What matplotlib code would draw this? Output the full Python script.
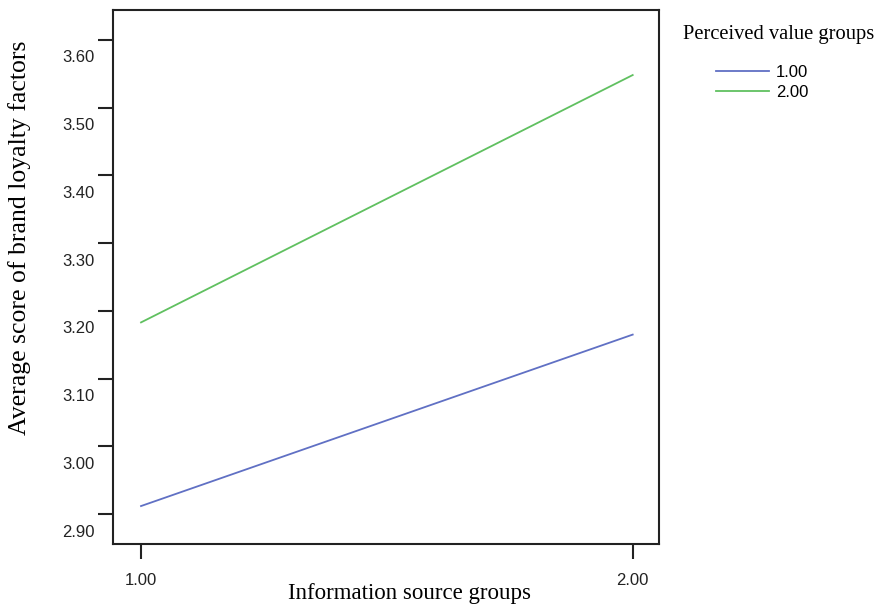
import matplotlib.pyplot as plt
import matplotlib.transforms as mtransforms

info_groups = [1.0, 2.0]
info_labels = ["1.00", "2.00"]
value_groups = ["1.00", "2.00"]
scores_low = [2.912, 3.165]
scores_high = [3.183, 3.548]
y_ticks = [2.90, 3.00, 3.10, 3.20, 3.30, 3.40, 3.50, 3.60]

colors = ["#6070c4", "#60c060"]
serif = ["Liberation Serif", "DejaVu Serif"]
sans = ["Liberation Sans", "DejaVu Sans"]

fig = plt.figure(figsize=(8.81, 6.06), dpi=100)
ax = fig.add_axes([113 / 881, 1 - 544 / 606, 546 / 881, 534 / 606])

lines = []
for vals, c in zip([scores_low, scores_high], colors):
    ln, = ax.plot(info_groups, vals, color=c, lw=1.3)
    lines.append(ln)

ax.set_xlim(0.943, 2.0535)
ax.set_ylim(2.856, 3.644)
ax.set_xticks(info_groups)
ax.set_xticklabels(info_labels, family=sans, fontsize=12, color="#222222")
ax.set_yticks(y_ticks)
ax.set_yticklabels(["%.2f" % v for v in y_ticks], family=sans, fontsize=12, color="#222222")
ax.tick_params(axis="y", length=11, width=1.5, pad=2, color="#222222")
ax.tick_params(axis="x", length=11, width=1.5, pad=10, color="#222222")

# SPSS puts the y labels a bit below their ticks
shift = mtransforms.ScaledTranslation(0, -0.165, fig.dpi_scale_trans)
for lab in ax.get_yticklabels():
    lab.set_transform(lab.get_transform() + shift)

for sp in ax.spines.values():
    sp.set_linewidth(1.5)
    sp.set_color("#222222")

fig.text(409 / 881, 1 - 593 / 606, "Information source groups",
         family=serif, fontsize=16.5, ha="center", va="center")
fig.text(20 / 881, 1 - 238 / 606, "Average score of brand loyalty factors",
         family=serif, fontsize=18.5, rotation=90, ha="center", va="center")

fig.text(683 / 881, 1 - 35 / 606, "Perceived value groups", family=serif,
         fontsize=14.8, ha="left", va="center")
fig.legend(lines, value_groups, loc="upper left",
           bbox_to_anchor=(701 / 881, 1 - 50 / 606), frameon=False,
           prop={"family": sans, "size": 12}, handlelength=3.2,
           handletextpad=0.4, labelspacing=0.3)

fig.savefig("out.png", dpi=100)
